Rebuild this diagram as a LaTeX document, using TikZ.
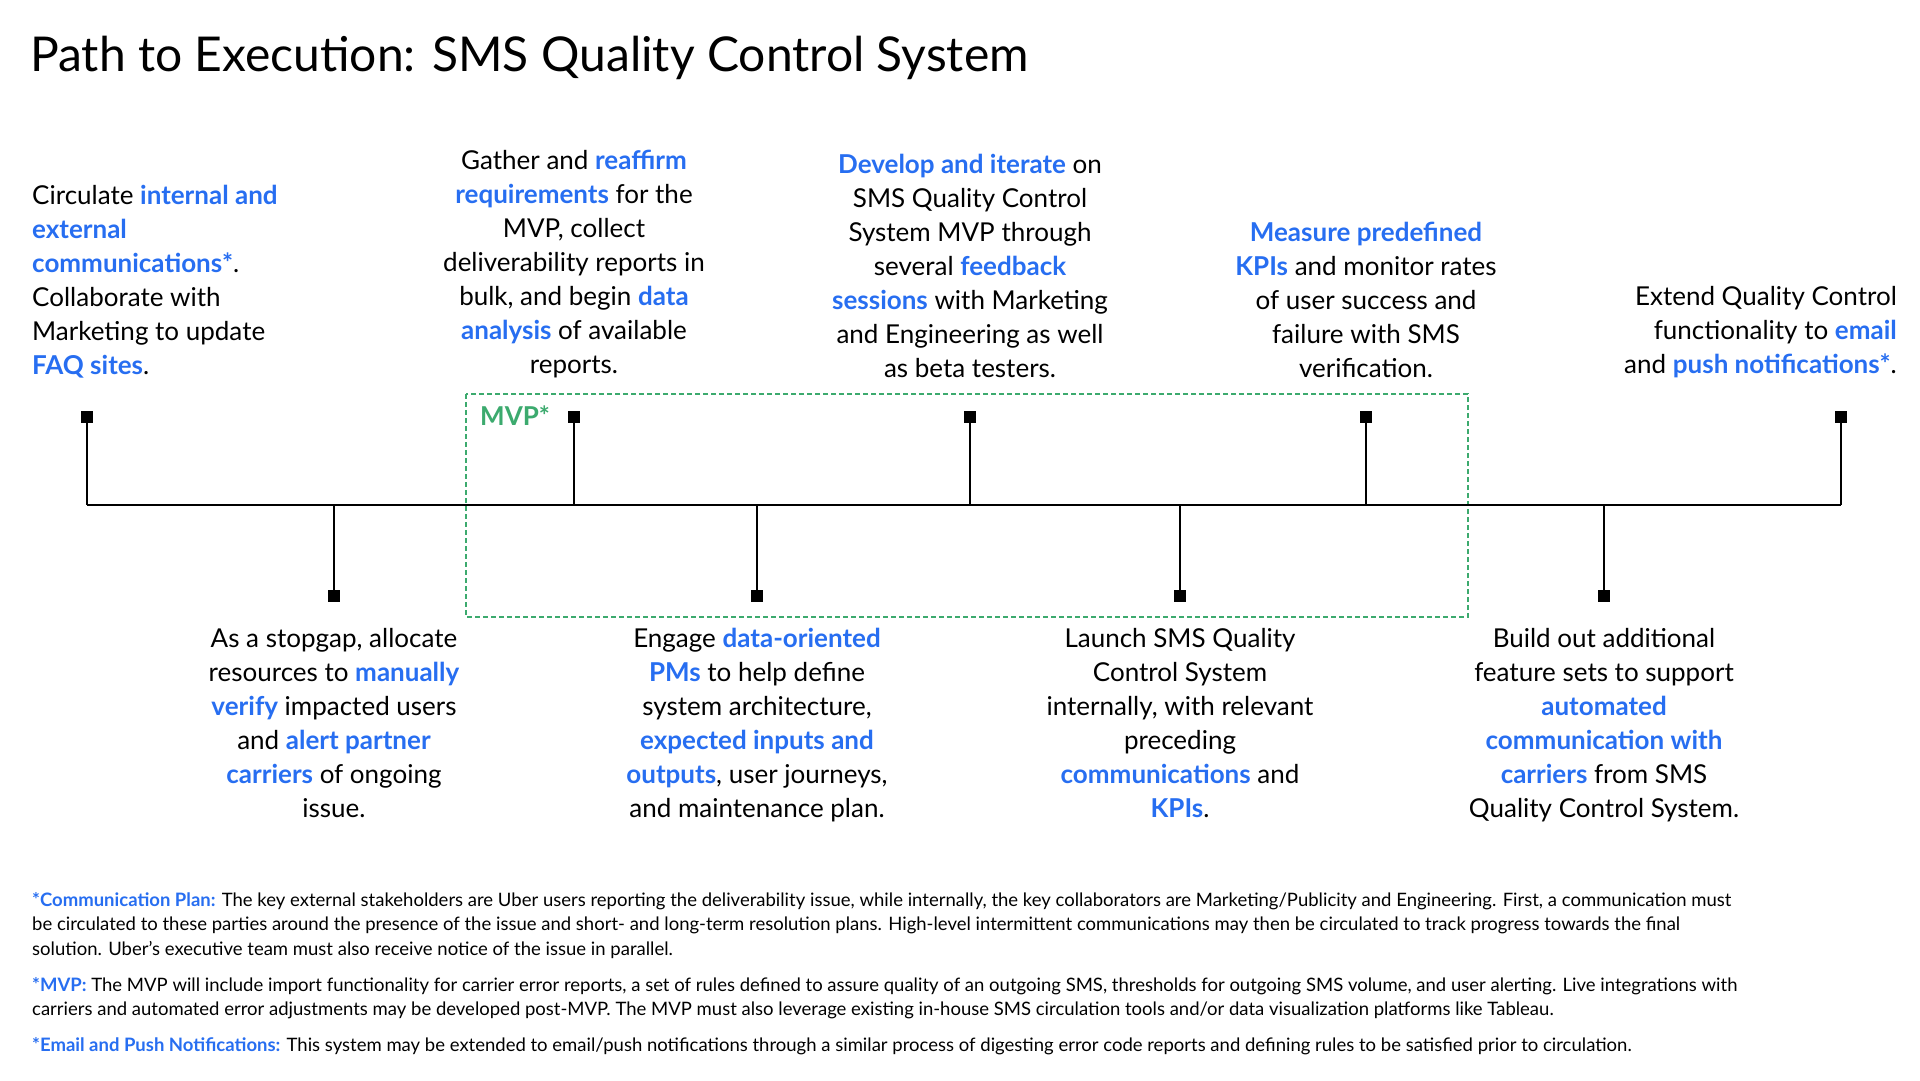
\documentclass[tikz,border=0pt]{standalone}
\usepackage{fontspec}
\setmainfont{Lato}
\usetikzlibrary{positioning}
\definecolor{tlBlue}{RGB}{39,110,241}
\definecolor{tlGreen}{RGB}{60,170,110}
\newcommand{\hl}[1]{\textbf{\color{tlBlue}#1}}
\tikzset{
    milestone/.style={font=\fontsize{26}{34}\selectfont, align=center, inner sep=0pt},
    pinbox/.style={rectangle, fill=black, minimum size=12pt, inner sep=0pt},
    tickline/.style={line width=2.5pt},
    footnote/.style={font=\fontsize{18.5}{24.5}\selectfont, align=left, inner sep=0pt}
}
\begin{document}
\begin{tikzpicture}[x=1pt,y=-1pt]
  \useasboundingbox[fill=white] (0,0) rectangle (1920,1080);

  % Title
  \node[anchor=west, inner sep=0pt, font=\fontsize{48}{48}\selectfont] (title) at (30,58) {Path to Execution: SMS Quality Control System};

  % MVP window
  \draw[tlGreen, line width=1.3pt, dash pattern=on 5pt off 3pt] (466,394) rectangle (1468,617);
  \node[anchor=west, text=tlGreen, font=\fontsize{26}{26}\selectfont\bfseries, inner sep=0pt] (mvp) at (480,416) {MVP*};

  % Timeline
  \coordinate (tl) at (87,505);
  \coordinate (tr) at (1841,505);
  \draw[tickline] (tl) -- (tr);

  % Top milestones
  \foreach \name/\x in {a/87, c/574, e/970, g/1366, i/1841} {
    \node[pinbox] (m\name) at (\x,417) {};
    \coordinate (t\name) at (\x,505);
    \draw[tickline] (m\name) -- (t\name);
  }
  % Bottom milestones
  \foreach \name/\x in {b/334, d/757, f/1180, h/1604} {
    \node[pinbox] (m\name) at (\x,596) {};
    \coordinate (t\name) at (\x,505);
    \draw[tickline] (t\name) -- (m\name);
  }

  % Top texts
  \node[milestone, align=left, anchor=south west] (sa) at (32,378) {Circulate \hl{internal and}\\\hl{external}\\\hl{communications*}.\\Collaborate with\\Marketing to update\\\hl{FAQ sites}.};
  \node[milestone, anchor=south] (sc) at (574,378) {Gather and \hl{reaffirm}\\\hl{requirements} for the\\MVP, collect\\deliverability reports in\\bulk, and begin \hl{data}\\\hl{analysis} of available\\reports.};
  \node[milestone, anchor=south] (se) at (970,378) {\hl{Develop and iterate} on\\SMS Quality Control\\System MVP through\\several \hl{feedback}\\\hl{sessions} with Marketing\\and Engineering as well\\as beta testers.};
  \node[milestone, anchor=south] (sg) at (1366,378) {\hl{Measure predefined}\\\hl{KPIs} and monitor rates\\of user success and\\failure with SMS\\verification.};
  \node[milestone, align=right, anchor=south east] (si) at (1897,378) {Extend Quality Control\\functionality to \hl{email}\\and \hl{push notifications*}.};

  % Bottom texts
  \node[milestone, anchor=north] (sb) at (334,628) {As a stopgap, allocate\\resources to \hl{manually}\\\hl{verify} impacted users\\and \hl{alert partner}\\\hl{carriers} of ongoing\\issue.};
  \node[milestone, anchor=north] (sd) at (757,628) {Engage \hl{data-oriented}\\\hl{PMs} to help define\\system architecture,\\\hl{expected inputs and}\\\hl{outputs}, user journeys,\\and maintenance plan.};
  \node[milestone, anchor=north] (sf) at (1180,628) {Launch SMS Quality\\Control System\\internally, with relevant\\preceding\\\hl{communications} and\\\hl{KPIs}.};
  \node[milestone, anchor=north] (sh) at (1604,628) {Build out additional\\feature sets to support\\\hl{automated}\\\hl{communication with}\\\hl{carriers} from SMS\\Quality Control System.};

  % Footnotes
  \node[footnote, anchor=north west] (n1) at (32,892) {\hl{*Communication Plan:} The key external stakeholders are Uber users reporting the deliverability issue, while internally, the key collaborators are Marketing/Publicity and Engineering. First, a communication must\\be circulated to these parties around the presence of the issue and short- and long-term resolution plans. High-level intermittent communications may then be circulated to track progress towards the final\\solution. Uber’s executive team must also receive notice of the issue in parallel.};
  \node[footnote, anchor=north west] (n2) at (32,977) {\hl{*MVP:} The MVP will include import functionality for carrier error reports, a set of rules defined to assure quality of an outgoing SMS, thresholds for outgoing SMS volume, and user alerting. Live integrations with\\carriers and automated error adjustments may be developed post-MVP. The MVP must also leverage existing in-house SMS circulation tools and/or data visualization platforms like Tableau.};
  \node[footnote, anchor=north west] (n3) at (32,1037) {\hl{*Email and Push Notifications:} This system may be extended to email/push notifications through a similar process of digesting error code reports and defining rules to be satisfied prior to circulation.};
\end{tikzpicture}
\end{document}
